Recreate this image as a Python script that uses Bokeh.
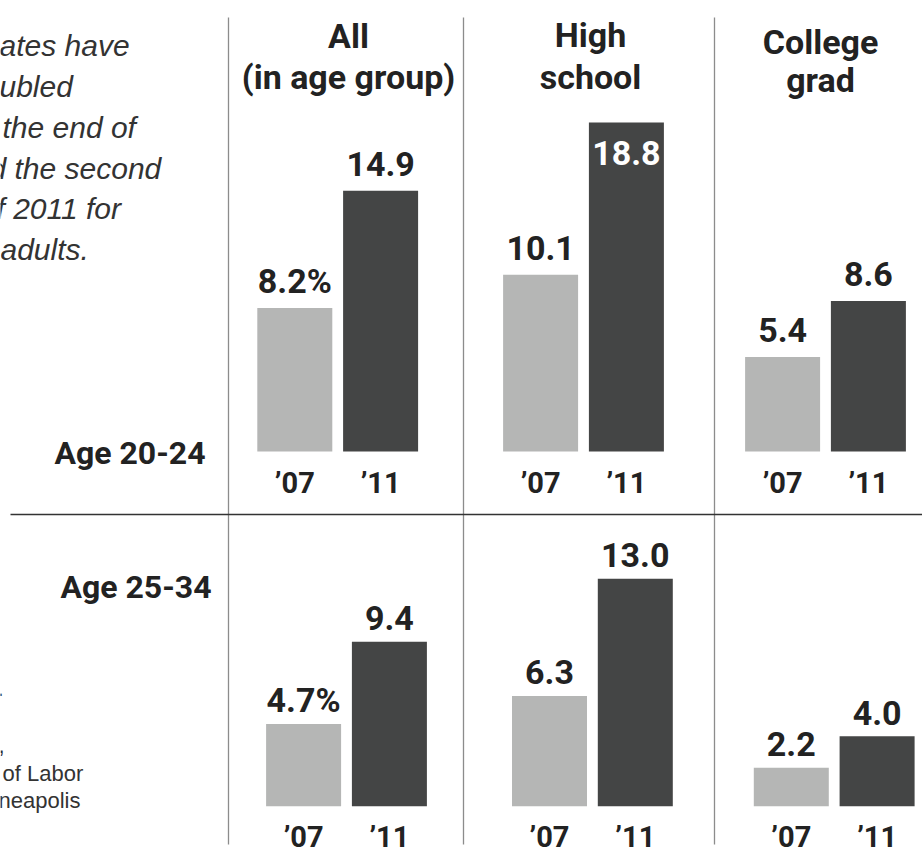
from bokeh.plotting import figure
from bokeh.models import Range1d
from bokeh.embed import file_html
from bokeh.resources import INLINE
from bokeh.core.properties import value

# ---------------- data ----------------
header_line1 = ["All", "High", "College"]
header_line2 = ["(in age group)", "school", "grad"]
years = ["\u201907", "\u201911"]
age_groups = ["Age 20-24", "Age 25-34"]
rate_2007_age20_24 = [8.2, 10.1, 5.4]
rate_2011_age20_24 = [14.9, 18.8, 8.6]
rate_2007_age25_34 = [4.7, 6.3, 2.2]
rate_2011_age25_34 = [9.4, 13.0, 4.0]
intro_lines = ["ates have", "ubled", "the end of", "d the second", "f 2011 for", "adults."]
source_lines = ["of Labor", "neapolis"]

# ---------------- layout / style ----------------
W, H = 922, 852
SCALE = 17.5            # px per percentage point
TOP_BASE = 451.0        # baseline of top row (px from top)
BOT_BASE = 805.7        # baseline of bottom row (px from top)
LIGHT = "#b5b6b5"
DARK = "#444545"
INK = "#222222"
BOLD = value("Roboto")
SANS = value("Liberation Sans")
SHIFT = 0.34            # empirical baseline correction (fraction of font size)

p = figure(width=W, height=H, output_backend="svg", toolbar_location=None,
           x_range=Range1d(0, W),
           y_range=Range1d(-(H - TOP_BASE) / SCALE, TOP_BASE / SCALE),
           x_axis_location=None, y_axis_location=None,
           min_border=0, outline_line_color=None,
           background_fill_color="white", border_fill_color="white")
p.xgrid.visible = False
p.ygrid.visible = False
p.extra_y_ranges = {
    "px": Range1d(H, 0),
    "bot": Range1d(-(H - BOT_BASE) / SCALE, BOT_BASE / SCALE),
}


def ptext(xs, ys, texts, size, font=BOLD, style="bold", align="center", color=INK):
    p.text(x=xs, y=[y - SHIFT * size for y in ys], text=texts, text_color=color,
           text_align=align, text_baseline="alphabetic", text_font=font,
           text_font_style=style, text_font_size=f"{size}px", y_range_name="px")


# separators
p.segment(x0=[228, 463, 714], y0=[17] * 3, x1=[228, 463, 714], y1=[844] * 3,
          line_color="#8c8c8c", line_width=1.3, y_range_name="px")
p.segment(x0=[10], y0=[514], x1=[W], y1=[514], line_color="#333333",
          line_width=1.5, y_range_name="px")

rows = [
    dict(rng="default", centers=[337.2, 583.0, 825.0], gap=15,
         v07=rate_2007_age20_24, v11=rate_2011_age20_24, year_y=492, age_y=463, age_x=205),
    dict(rng="bot", centers=[346.0, 591.9, 833.7], gap=12,
         v07=rate_2007_age25_34, v11=rate_2011_age25_34, year_y=846, age_y=597, age_x=211),
]

HALF = 42.9
BAR_W = 75
VSIZE = 34
YSIZE = 29

for ri, row in enumerate(rows):
    kw = {} if row["rng"] == "default" else {"y_range_name": row["rng"]}
    xs07 = [c - HALF for c in row["centers"]]
    xs11 = [c + HALF for c in row["centers"]]
    p.vbar(x=xs07, top=row["v07"], bottom=0, width=BAR_W, fill_color=LIGHT,
           line_color=None, **kw)
    p.vbar(x=xs11, top=row["v11"], bottom=0, width=BAR_W, fill_color=DARK,
           line_color=None, **kw)

    # value labels (data units point up, so the correction is added)
    above = (row["gap"] + SHIFT * VSIZE) / SCALE
    inside = (-42 + SHIFT * VSIZE) / SCALE
    lx, ly, lt, lc = [], [], [], []
    for i, v in enumerate(row["v07"]):
        lx.append(xs07[i])
        ly.append(v + above)
        lt.append(f"{v:.1f}%" if i == 0 else f"{v:.1f}")
        lc.append(INK)
    for i, v in enumerate(row["v11"]):
        lx.append(xs11[i])
        if v > 17:
            ly.append(v + inside)
            lc.append("white")
        else:
            ly.append(v + above)
            lc.append(INK)
        lt.append(f"{v:.1f}")
    p.text(x=lx, y=ly, text=lt, text_color=lc, text_align="center",
           text_baseline="alphabetic", text_font=BOLD, text_font_style="bold",
           text_font_size=f"{VSIZE}px", **kw)

    # year labels
    ptext(xs07 + xs11, [row["year_y"]] * 6, [years[0]] * 3 + [years[1]] * 3, YSIZE)

    # age group label
    ptext([row["age_x"]], [row["age_y"]], [age_groups[ri]], 32, align="right")

# column headers
ptext([348, 590, 820], [47, 46, 53], header_line1, 34)
ptext([348, 590, 820], [88, 88, 91], header_line2, 34)

# intro (cropped) text
ptext([-1, -1, 2, -11, -4, 0], [55, 96, 137, 178, 218, 259], intro_lines, 30,
      font=SANS, style="italic", align="left", color="#333333")

# source (cropped) text
ptext([-3, -2], [695, 752], [".", ","], 22, font=SANS, style="normal",
      align="left", color="#333333")
ptext([2, -2], [780, 807], source_lines, 22, font=SANS, style="normal",
      align="left", color="#333333")

open("out.html", "w").write(file_html(p, INLINE))
